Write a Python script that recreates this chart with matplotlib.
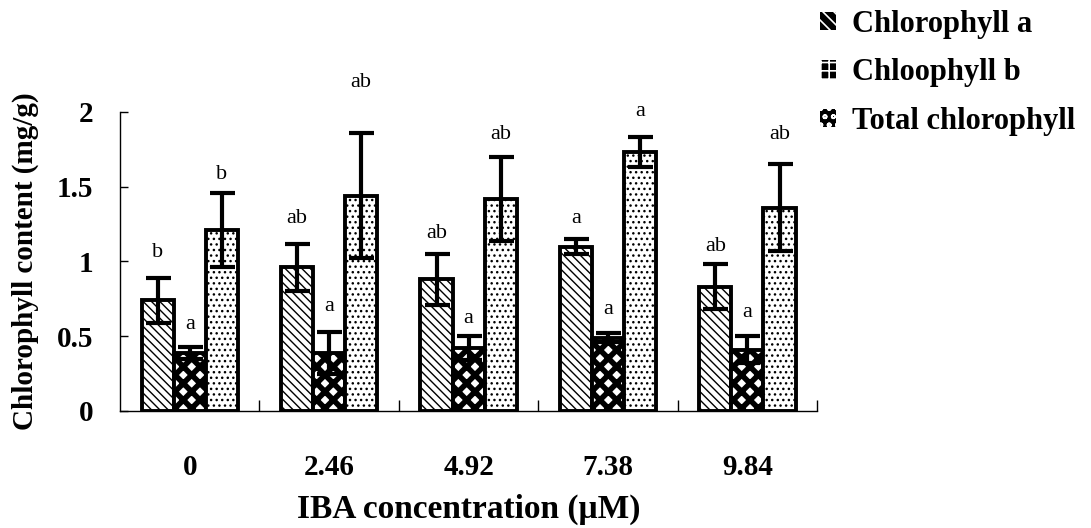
import matplotlib
matplotlib.use("Agg")
import matplotlib.pyplot as plt
import numpy as np
from matplotlib.patches import Patch

categories = ["0", "2.46", "4.92", "7.38", "9.84"]
series_names = ["Chlorophyll a", "Chloophyll b", "Total chlorophyll"]
chl_a = [0.74, 0.96, 0.88, 1.10, 0.83]
chl_a_err = [0.15, 0.16, 0.17, 0.05, 0.15]
chl_b = [0.39, 0.39, 0.42, 0.49, 0.41]
chl_b_err = [0.04, 0.14, 0.08, 0.03, 0.09]
total = [1.21, 1.44, 1.42, 1.73, 1.36]
total_err = [0.25, 0.42, 0.28, 0.10, 0.29]
letters_a = ["b", "ab", "ab", "a", "ab"]
letters_b = ["a", "a", "a", "a", "a"]
letters_t = ["b", "ab", "ab", "a", "ab"]
letter_y_a = [1.06, 1.29, 1.19, 1.29, 1.10]
letter_y_b = [0.58, 0.70, 0.62, 0.68, 0.66]
letter_y_t = [1.58, 2.20, 1.85, 2.00, 1.85]

plt.rcParams['font.family'] = ['Liberation Serif', 'DejaVu Serif']

fig = plt.figure(figsize=(10.91, 5.28), dpi=100)
ax = fig.add_axes([0.110, 0.2216, 0.639, 0.5664])

x = np.arange(len(categories))
w = 0.23
series = [(chl_a, chl_a_err, letters_a, letter_y_a, '\\\\\\\\', 1.0),
          (chl_b, chl_b_err, letters_b, letter_y_b, 'XX', 4.0),
          (total, total_err, letters_t, letter_y_t, '...', 1.0)]
legend_hatches = ['\\\\\\', '++', 'oo']
handles = []
for i, (vals, errs, lets, ly, hatch, hlw) in enumerate(series):
    pos = x + (i - 1) * w
    plt.rcParams['hatch.linewidth'] = hlw
    ax.bar(pos, vals, w, color='white', edgecolor='black', linewidth=2.8,
           hatch=hatch, zorder=2)
    ax.errorbar(pos, vals, yerr=errs, fmt='none', ecolor='black', elinewidth=3,
                capsize=9, capthick=3, zorder=3)
    for p, t, yy in zip(pos, lets, ly):
        ax.text(p, yy, t, ha='center', va='center', fontsize=16, clip_on=False)
    handles.append(Patch(facecolor='black', edgecolor='white', linewidth=0,
                         hatch=legend_hatches[i], label=series_names[i]))

plt.rcParams['hatch.linewidth'] = 1.2
ax.set_xlim(-0.5, 4.5)
ax.set_ylim(0, 2)
ax.set_yticks([0, 0.5, 1, 1.5, 2])
ax.set_yticklabels(['0', '0.5', '1', '1.5', '2'], fontweight='bold', fontsize=21)
ax.set_xticks(x)
ax.set_xticklabels(categories, fontweight='bold', fontsize=21)
ax.tick_params(axis='x', length=0, pad=31)
ax.tick_params(axis='y', direction='in', length=6, width=1, pad=19)
ax.set_xticks(np.arange(0.5, 4.6, 1), minor=True)
ax.tick_params(axis='x', which='minor', direction='in', length=8, width=1)
for s in ['top', 'right']:
    ax.spines[s].set_visible(False)
ax.spines['left'].set_linewidth(1)
ax.spines['bottom'].set_linewidth(1)
ax.set_xlabel('IBA concentration (μM)', fontweight='bold', fontsize=24, labelpad=9)
ax.set_ylabel('Chlorophyll content (mg/g)', fontweight='bold', fontsize=21, labelpad=13)

leg = fig.legend(handles=handles, loc='upper left', bbox_to_anchor=(0.726, 1.033),
                 frameon=False, prop={'weight': 'bold', 'size': 22},
                 handlelength=0.55, handleheight=0.55, handletextpad=0.5,
                 labelspacing=0.63)

fig.savefig('out.png', dpi=100)
